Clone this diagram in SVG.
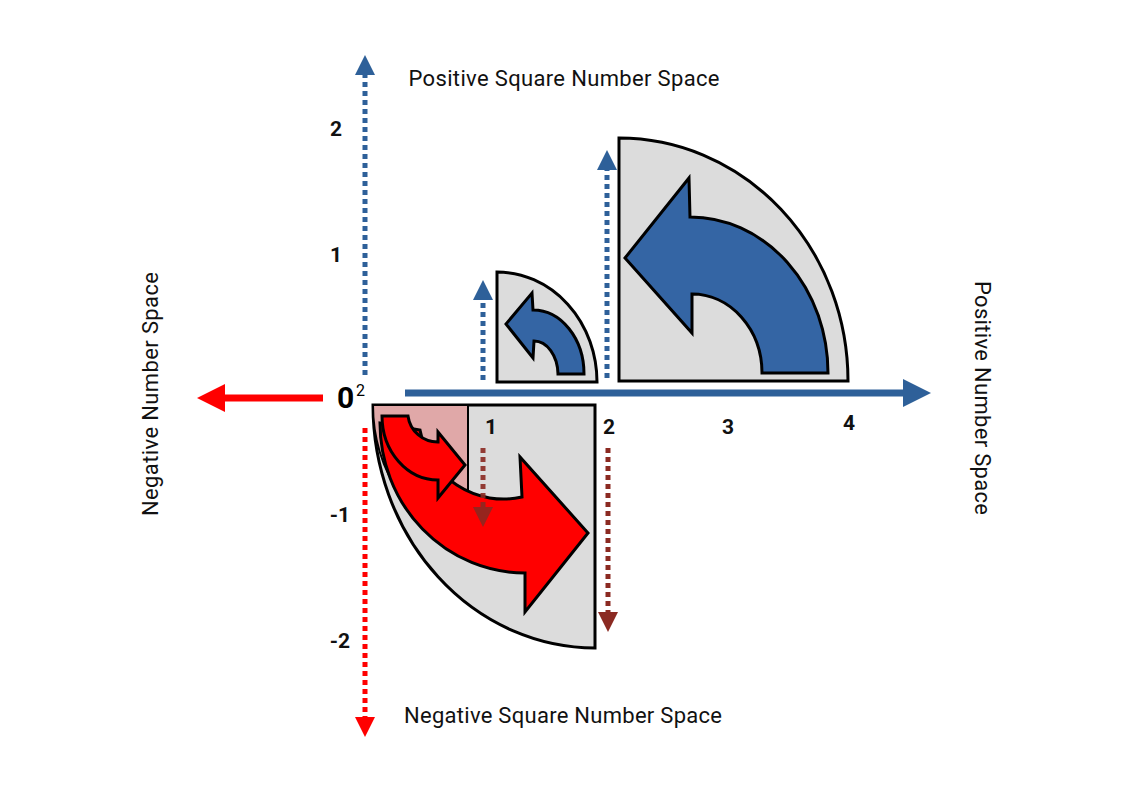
<svg xmlns="http://www.w3.org/2000/svg" width="1123" height="794" viewBox="0 0 1123 794">
<style>
.lbl{font-family:Roboto,"Liberation Sans",sans-serif;font-size:22px;fill:#111}
.num{font-family:Roboto,"Liberation Sans",sans-serif;font-size:21px;font-weight:bold;fill:#111;text-anchor:middle}
.q{fill:#dcdcdc;stroke:#000;stroke-width:3}
.b{fill:#3465a4;stroke:#000;stroke-width:3;stroke-linejoin:miter}
.r{fill:#f00;stroke:#000;stroke-width:3}
</style>
<defs>
<marker id="ab" markerWidth="4" markerHeight="4" refX="1" refY="2" orient="auto" markerUnits="strokeWidth"><path d="M0,0L4,2L0,4Z" fill="#2e6099"/></marker>
<marker id="ar" markerWidth="4" markerHeight="4" refX="1" refY="2" orient="auto" markerUnits="strokeWidth"><path d="M0,0L4,2L0,4Z" fill="#f00"/></marker>
<marker id="ad" markerWidth="4" markerHeight="4" refX="1" refY="2" orient="auto" markerUnits="strokeWidth"><path d="M0,0L4,2L0,4Z" fill="#8b2a22"/></marker>
</defs>
<rect width="1123" height="794" fill="#fff"/>
<g id="connectors">
<line x1="405" y1="393" x2="910" y2="393" stroke="#2e6099" stroke-width="7" marker-end="url(#ab)"/>
<line x1="323" y1="398" x2="218" y2="398" stroke="#f00" stroke-width="7" marker-end="url(#ar)"/>
<line x1="365" y1="375" x2="365" y2="70" stroke="#2e6099" stroke-width="5" stroke-dasharray="5,4" marker-end="url(#ab)"/>
<line x1="365" y1="428" x2="365" y2="722" stroke="#f00" stroke-width="5" stroke-dasharray="5,4" marker-end="url(#ar)"/>
<line x1="483" y1="380" x2="483" y2="295" stroke="#2e6099" stroke-width="5" stroke-dasharray="5,4" marker-end="url(#ab)"/>
<line x1="607" y1="378" x2="607" y2="165" stroke="#2e6099" stroke-width="5" stroke-dasharray="5,4" marker-end="url(#ab)"/>
</g>
<g id="q-blue-small"><path class="q" d="M497,382V272A100,110 0 0 1 597,382Z"/>
<path class="b" d="M584,374A51,64 0 0 0 533,310L532,293L506,324L533,358L534,341A24,34 0 0 1 558,374Z"/></g>
<g id="q-blue-large"><path class="q" d="M619,381V138A229,243 0 0 1 848,381Z"/>
<path class="b" d="M828,373A138,156 0 0 0 690,217L689,178L625,258L692,333L692,294A70,79 0 0 1 762,373Z"/></g>
<g id="q-red-large"><path class="q" d="M373,405H595V648A222,243 0 0 1 373,405Z"/>
<path d="M373,405H468V532A95,127 0 0 1 373,405Z" fill="#e0a8a8" stroke="#000" stroke-width="2"/>
<path class="r" d="M380,423A145,150 0 0 0 525,573L525,612L588,533L520,457L522,497A85,85 0 0 1 420,430Z" fill="#ee1111"/>
<path class="r" d="M382,416A56,64 0 0 0 438,480L438,498L465,465L438,432L438,442A30,30 0 0 1 408,416Z"/></g>
<g id="connectors2">
<line x1="483" y1="448" x2="483" y2="512" stroke="#8b2a22" stroke-width="5" stroke-dasharray="5,4" marker-end="url(#ad)" opacity="0.9"/>
<line x1="608" y1="448" x2="608" y2="617" stroke="#8b2a22" stroke-width="5" stroke-dasharray="5,4" marker-end="url(#ad)"/>
</g>
<g id="labels">
<text class="lbl" x="564" y="86" text-anchor="middle" textLength="311">Positive Square Number Space</text>
<text class="lbl" x="563" y="723" text-anchor="middle" textLength="318">Negative Square Number Space</text>
<text class="lbl" transform="translate(158,394) rotate(-90)" text-anchor="middle" textLength="244">Negative Number Space</text>
<text class="lbl" transform="translate(975,398) rotate(90)" text-anchor="middle" textLength="234">Positive Number Space</text>
<text class="num" x="336" y="136">2</text>
<text class="num" x="336" y="262">1</text>
<text x="337" y="408" style="font-family:Roboto,'Liberation Sans',sans-serif;font-size:30px;font-weight:bold">0</text>
<text x="356" y="396" style="font-family:Roboto,'Liberation Sans',sans-serif;font-size:16px">2</text>
<text class="num" x="340" y="522">-1</text>
<text class="num" x="340" y="648">-2</text>
<text class="num" x="491" y="434">1</text>
<text class="num" x="609" y="434">2</text>
<text class="num" x="728" y="434">3</text>
<text class="num" x="849" y="430">4</text>
</g>
</svg>
